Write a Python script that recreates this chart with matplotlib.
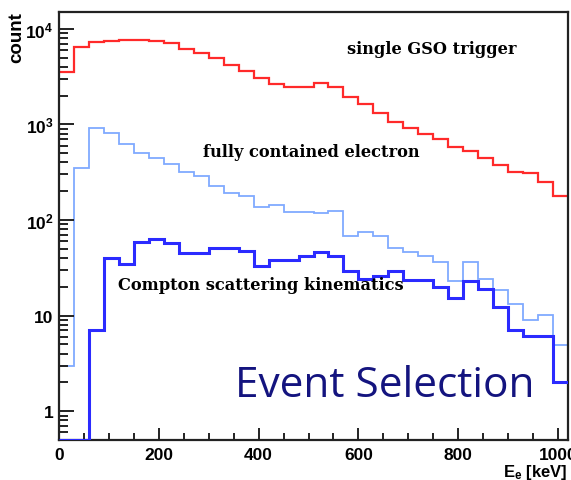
import numpy as np
import matplotlib
matplotlib.use('Agg')
import matplotlib.pyplot as plt
from matplotlib.ticker import FixedLocator, LogLocator, MultipleLocator, NullFormatter

plt.rcParams['font.family'] = ['Liberation Sans', 'DejaVu Sans']
plt.rcParams['mathtext.fontset'] = 'custom'
plt.rcParams['mathtext.rm'] = 'Liberation Sans'
plt.rcParams['mathtext.bf'] = 'Liberation Sans:bold'
plt.rcParams['mathtext.it'] = 'Liberation Sans:italic'

# bin edges (keV), 30 keV bins
edges = np.arange(0, 1021, 30)

# single GSO trigger
gso = [3500, 6400, 7200, 7550, 7680, 7680, 7500, 7100, 6150, 5590,
       4950, 4220, 3650, 3070, 2670, 2470, 2470, 2720, 2470, 1950,
       1655, 1325, 1057, 924, 787, 698, 575, 527, 450, 374,
       321, 309, 251, 179]

# fully contained electron
contained = [3.0, 346, 924, 819, 629, 507, 450, 383, 316, 289,
             228, 194, 179, 136, 144, 120, 120, 118, 125, 68.6,
             74.5, 68.6, 50.7, 46.1, 41.9, 36.8, 23.3, 36.3, 24.3, 18.4,
             13.3, 8.9, 10.2, 4.9]

# Compton scattering kinematics
compton = [0, 0, 7.0, 39.9, 34.8, 58.6, 63.4, 57.6, 45, 45,
           50.7, 50.7, 47.9, 33.4, 38.6, 38.6, 42.5, 46.1, 41.9, 29.6,
           23.9, 25.9, 29.2, 23.7, 23.7, 19.9, 15.3, 22.8, 18.8, 12.3,
           7.0, 6.1, 6.1, 2.04]

ymin, ymax = 0.5, 1.5e4

fig = plt.figure(figsize=(5.71, 4.81), dpi=100)
ax = fig.add_axes([59/571, 1-441/481, 509/571, 428/481])

def bottom(v):
    # empty bins are drawn along the bottom of the frame, as ROOT does
    v = np.asarray(v, dtype=float)
    return np.where(v > 0, v, ymin)

ax.stairs(bottom(gso), edges, baseline=None, color='#ff2a2a', lw=1.6)
ax.stairs(bottom(contained), edges, baseline=None, color='#80aaff', lw=1.3)
ax.stairs(bottom(compton), edges, baseline=None, color='#2b2bff', lw=2.2, zorder=3)

ax.set_yscale('log')
ax.set_xlim(0, 1020)
ax.set_ylim(ymin, ymax)

ax.yaxis.set_major_locator(FixedLocator([1, 10, 100, 1000, 10000]))
ax.set_yticklabels(['1', '10', r'$\mathbf{10^{2}}$', r'$\mathbf{10^{3}}$', r'$\mathbf{10^{4}}$'])
ax.yaxis.set_minor_locator(LogLocator(base=10, subs=np.arange(2, 10)))
ax.yaxis.set_minor_formatter(NullFormatter())
ax.xaxis.set_major_locator(MultipleLocator(200))
ax.xaxis.set_minor_locator(MultipleLocator(50))

for s in ax.spines.values():
    s.set_linewidth(1.6)
    s.set_color('#222222')

ax.tick_params(axis='both', which='both', direction='in', width=1.4, colors='#222222',
               labelcolor='black', top=False, right=False)
ax.tick_params(axis='y', which='major', length=10.8, pad=4)
ax.tick_params(axis='y', which='minor', length=6.5)
ax.tick_params(axis='x', which='major', length=8.6, pad=5)
ax.tick_params(axis='x', which='minor', length=5)
for lab in ax.get_xticklabels() + ax.get_yticklabels():
    lab.set_fontweight('bold')
    lab.set_fontsize(12.5)

fig.text(17/571, 1-38/481, 'count', rotation=90, ha='center', va='center',
         fontsize=13.5, fontweight='bold')
fig.text(568/571, 1-473/481, r'$\mathbf{E_{e}}$ [keV]', ha='right', va='center',
         fontsize=12, fontweight='bold')

serif = dict(family=['DejaVu Serif'], fontweight='bold', fontsize=11.7, va='center', ha='left')
fig.text(347/571, 1-50/481, 'single GSO trigger', **serif)
fig.text(203/571, 1-153/481, 'fully contained electron', **serif)
fig.text(118/571, 1-286/481, 'Compton scattering kinematics', **serif)

fig.text(235/571, 1-397/481, 'Event Selection', ha='left', va='baseline',
         fontsize=30.5, color='#14147f', family=['Open Sans', 'DejaVu Sans'])

plt.savefig('out.png', dpi=100)
